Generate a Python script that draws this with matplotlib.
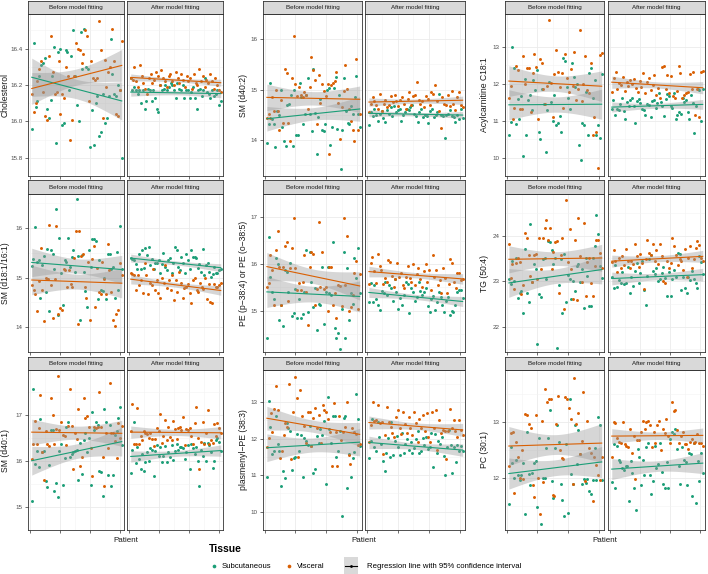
import numpy as np
import matplotlib
matplotlib.use("Agg")
import matplotlib.pyplot as plt

plt.rcParams['font.family'] = ['Liberation Sans', 'DejaVu Sans']

# ---- data: values per patient, left to right ----
chol_before_sub = [15.96, 16.43, 16.08, 16.11, 16.25, 16.31, 16.32, 16.35, 16.07, 16.02, 16.12, 16.25, 16.41, 15.88, 16.38, 16.40,
                   15.98, 15.99, 16.39, 16.38, 16.17, 16.36, 16.50, 16.25, 16.09, 16.00, 16.49, 16.29, 16.51, 16.30, 16.29, 15.86,
                   16.06, 15.87, 16.10, 16.14, 15.92, 15.94, 16.15, 15.99, 16.02, 16.14, 16.45, 16.26, 16.15, 16.14, 16.20, 16.17, 15.80]
chol_before_vis = [16.15, 16.05, 16.10, 16.22, 16.29, 16.33, 16.16, 16.03, 16.01, 16.36, 16.47, 16.27, 16.15, 16.16, 16.33, 16.04,
                   16.15, 16.13, 16.30, 16.25, 15.90, 16.01, 16.25, 16.43, 16.40, 16.39, 16.32, 16.37, 16.50, 16.47, 16.11, 16.33,
                   16.24, 16.23, 16.24, 16.55, 16.39, 16.02, 16.34, 16.19, 16.27, 16.30, 16.51, 16.33, 16.04, 16.03, 16.17, 16.44]
chol_after_sub = [16.24, 16.17, 16.19, 16.17, 16.15, 16.17, 16.10, 16.17, 16.07, 16.11, 16.18, 16.17, 16.11, 16.17, 16.13, 16.07,
                  16.05, 16.20, 16.17, 16.18, 16.20, 16.17, 16.19, 16.21, 16.20, 16.17, 16.13, 16.21, 16.18, 16.17, 16.20, 16.13,
                  16.17, 16.17, 16.13, 16.16, 16.19, 16.13, 16.07, 16.17, 16.18, 16.14, 16.17, 16.24, 16.16, 16.15, 16.13, 16.17,
                  16.14, 16.15, 16.17, 16.09, 16.11]
chol_after_vis = [16.24, 16.23, 16.30, 16.22, 16.19, 16.31, 16.25, 16.21, 16.18, 16.15, 16.24, 16.26, 16.21, 16.23, 16.27, 16.25,
                  16.20, 16.28, 16.24, 16.22, 16.19, 16.25, 16.26, 16.22, 16.20, 16.27, 16.24, 16.21, 16.26, 16.23, 16.19, 16.25,
                  16.22, 16.24, 16.18, 16.26, 16.21, 16.20, 16.29, 16.22, 16.25, 16.19, 16.23, 16.21, 16.26, 16.22, 16.18, 16.24,
                  16.20, 16.17, 16.16]

sm402_before_sub = [13.94, 14.32, 15.13, 14.41, 14.32, 13.86, 14.58, 14.49, 15.00, 14.26, 13.99, 13.88, 14.70, 14.71, 14.89, 13.88,
                    15.00, 14.10, 14.10, 15.14, 14.85, 14.33, 14.51, 14.90, 15.24, 14.51, 14.18, 15.42, 14.54, 13.72, 14.46, 14.82,
                    14.20, 14.18, 14.32, 15.00, 15.03, 13.90, 14.26, 15.03, 15.25, 14.23, 14.89, 13.42, 14.20, 15.24, 14.58, 14.35,
                    14.32, 14.67, 14.52, 14.85, 15.27, 14.52, 14.26]
sm402_before_vis = [14.43, 14.52, 14.43, 14.85, 14.58, 15.00, 14.58, 14.20, 14.79, 14.35, 15.42, 15.33, 14.35, 13.99, 15.24, 16.06,
                    15.12, 14.88, 15.06, 14.89, 14.85, 14.95, 14.90, 14.61, 15.05, 15.65, 15.40, 15.20, 14.32, 15.29, 14.73, 15.12,
                    14.97, 14.87, 15.12, 13.72, 15.09, 15.14, 15.17, 15.36, 14.73, 14.02, 14.65, 14.97, 15.48, 15.01, 14.61, 14.38,
                    14.20, 13.99, 15.60, 14.20, 14.52]
sm402_after_sub = [14.31, 14.55, 14.48, 14.62, 14.50, 14.38, 14.52, 14.58, 14.44, 14.36, 14.60, 14.52, 14.65, 14.48, 14.68, 14.55,
                   14.59, 14.62, 14.38, 14.50, 14.55, 14.62, 14.59, 14.66, 14.70, 14.52, 14.48, 14.36, 14.56, 14.62, 14.45, 14.50,
                   14.48, 14.35, 14.58, 14.62, 14.45, 14.50, 14.55, 14.92, 14.50, 14.48, 14.05, 14.50, 14.52, 14.60, 14.48, 14.45,
                   14.36, 14.50, 14.42, 14.62, 14.44]
sm402_after_vis = [14.55, 14.72, 14.85, 14.78, 14.70, 14.62, 14.92, 14.58, 14.72, 14.80, 14.65, 14.70, 14.88, 14.75, 14.90, 14.78,
                   14.68, 14.80, 14.85, 14.72, 14.62, 14.82, 14.95, 14.70, 14.88, 14.90, 15.15, 14.80, 14.72, 14.78, 14.65, 14.88,
                   14.82, 14.70, 14.96, 14.92, 15.10, 14.78, 14.58, 14.25, 14.85, 14.72, 14.70, 14.90, 14.68, 14.98, 14.72, 14.60,
                   14.85, 14.95, 14.70, 14.65]

acyl_before_sub = [10.61, 10.95, 13.00, 12.41, 10.91, 11.58, 11.04, 11.65, 10.05, 12.11, 10.61, 11.56, 11.69, 11.29, 12.09, 11.82,
                   12.36, 10.70, 10.50, 11.86, 11.44, 10.15, 11.29, 12.05, 11.51, 11.00, 11.69, 10.89, 10.92, 11.11, 10.68, 12.68,
                   12.62, 11.90, 11.60, 11.31, 12.55, 12.19, 11.90, 11.98, 10.33, 9.92, 10.92, 10.89, 11.78, 10.61, 12.29, 12.41,
                   11.60, 12.09, 10.61, 10.89, 10.52, 12.27]
acyl_before_vis = [11.60, 11.93, 11.05, 11.35, 12.47, 12.36, 11.31, 11.31, 12.74, 12.00, 12.41, 12.41, 11.24, 12.29, 12.79, 12.45,
                   11.05, 12.65, 12.56, 11.84, 11.44, 11.93, 13.71, 12.02, 11.09, 12.25, 12.90, 12.31, 11.90, 12.29, 11.33, 12.81,
                   12.14, 11.78, 12.38, 11.93, 12.85, 11.56, 11.86, 13.46, 11.54, 12.00, 12.74, 11.82, 11.74, 12.56, 10.61, 11.09,
                   10.68, 9.72, 12.77, 12.83]
acyl_after_sub = [11.30, 11.55, 11.15, 11.32, 11.28, 11.45, 11.60, 11.25, 11.05, 11.50, 11.40, 11.55, 11.62, 11.38, 10.92, 11.52,
                  11.58, 11.47, 11.30, 11.28, 11.15, 11.45, 11.42, 11.10, 11.52, 11.55, 11.35, 11.48, 11.75, 11.50, 11.40, 11.12,
                  11.58, 11.72, 11.65, 11.40, 11.35, 11.75, 11.05, 11.15, 11.22, 11.18, 11.60, 11.50, 11.55, 11.22, 11.05, 11.70,
                  11.48, 10.65, 11.38, 11.85, 11.82, 11.00, 11.86]
acyl_after_vis = [11.78, 12.15, 12.30, 11.85, 12.02, 11.95, 12.18, 11.80, 12.05, 11.92, 12.10, 11.98, 12.12, 11.88, 11.78, 12.08,
                  11.90, 12.28, 11.75, 12.05, 12.15, 11.82, 11.95, 12.22, 11.70, 11.88, 11.62, 12.45, 12.48, 11.85, 12.22, 11.75,
                  12.20, 11.65, 11.62, 11.80, 12.48, 12.28, 11.62, 11.70, 11.75, 11.78, 12.25, 11.85, 12.30, 11.15, 11.85, 11.10,
                  12.32, 12.34]

sm181_before_sub = [15.24, 15.38, 16.03, 15.32, 15.35, 14.59, 15.26, 15.44, 14.71, 15.58, 14.33, 15.55, 15.48, 15.18, 16.39, 14.24,
                    15.81, 15.09, 14.44, 15.36, 15.32, 15.81, 15.21, 15.41, 15.55, 15.12, 16.58, 15.44, 14.15, 15.45, 15.12, 14.74,
                    14.41, 15.56, 15.21, 15.78, 15.78, 15.75, 14.57, 15.35, 14.76, 14.74, 15.00, 14.56, 15.47, 15.47, 15.18, 15.21,
                    14.59, 15.51, 14.76, 16.04, 15.18]
sm181_before_vis = [14.85, 14.76, 14.68, 14.33, 14.94, 15.59, 14.76, 14.13, 15.00, 14.97, 16.06, 14.85, 14.18, 14.97, 16.04, 14.27,
                    14.38, 14.35, 15.18, 15.16, 14.82, 15.15, 14.88, 14.82, 15.39, 15.94, 14.06, 15.94, 15.44, 15.47, 14.82, 14.59,
                    15.31, 14.15, 15.38, 15.65, 14.41, 15.19, 14.71, 14.68, 15.32, 14.97, 14.68, 15.69, 15.15, 14.71, 14.15, 14.03,
                    14.27, 14.35, 15.29, 15.06]
sm181_after_sub = [15.40, 15.38, 15.35, 15.28, 15.17, 15.48, 15.18, 15.55, 15.20, 15.60, 15.45, 15.62, 15.25, 15.38, 15.18, 15.30,
                   15.30, 15.36, 15.10, 15.28, 15.50, 15.22, 15.15, 15.35, 15.40, 15.10, 15.30, 15.62, 15.55, 15.22, 15.15, 15.42,
                   15.30, 15.10, 15.48, 15.35, 15.18, 15.55, 15.42, 15.42, 15.40, 15.20, 15.28, 15.12, 15.58, 15.05, 15.25, 15.30,
                   15.12, 15.02, 15.08, 15.22, 15.10, 15.10, 15.15, 15.18]
sm181_after_vis = [15.10, 15.08, 15.06, 14.75, 15.05, 14.85, 14.95, 14.70, 15.30, 15.05, 14.68, 14.90, 14.85, 15.18, 14.75, 14.95,
                   14.70, 14.60, 15.00, 14.90, 15.25, 14.80, 14.95, 14.75, 15.05, 14.55, 14.95, 14.72, 15.12, 14.90, 14.60, 14.80,
                   14.82, 14.88, 14.70, 14.48, 14.95, 15.00, 14.75, 14.72, 14.90, 14.82, 14.78, 15.00, 14.58, 14.88, 14.50, 14.48,
                   14.88, 14.82, 14.82, 14.86, 14.90]

pe_before_sub = [14.43, 16.58, 15.73, 15.41, 15.25, 16.13, 16.00, 14.81, 15.12, 14.67, 15.88, 15.84, 15.41, 16.03, 14.90, 14.95,
                 15.46, 14.84, 15.26, 14.84, 14.93, 15.41, 16.31, 14.97, 16.25, 15.61, 15.09, 15.49, 14.59, 15.15, 15.12, 15.94,
                 14.72, 15.41, 15.94, 15.38, 15.33, 16.47, 14.63, 14.43, 14.52, 14.19, 15.03, 16.26, 14.41, 15.92, 14.81, 15.38,
                 15.15, 16.13, 15.70, 16.34, 15.38]
pe_before_vis = [15.50, 15.59, 16.19, 15.88, 15.12, 16.31, 16.71, 15.94, 15.12, 15.94, 16.38, 16.48, 15.22, 15.91, 16.34, 16.99,
                 15.91, 15.44, 15.59, 15.44, 15.62, 16.19, 15.41, 14.69, 15.94, 16.25, 16.22, 15.12, 15.46, 16.90, 15.50, 16.25,
                 15.46, 15.50, 15.00, 15.94, 15.94, 15.12, 15.38, 14.84, 15.56, 15.53, 15.10, 16.99, 15.56, 16.61, 15.00, 15.09,
                 15.35, 15.81, 16.06, 15.03, 15.79]
pe_after_sub = [15.20, 15.60, 15.20, 15.55, 15.25, 15.12, 15.02, 15.42, 15.38, 15.62, 15.35, 15.55, 15.48, 15.22, 15.68, 15.40,
                15.05, 15.28, 15.12, 15.35, 15.62, 15.58, 14.95, 15.48, 15.40, 15.22, 15.30, 15.62, 15.42, 15.35, 15.40, 15.48,
                15.10, 14.98, 15.25, 15.32, 15.02, 15.20, 15.40, 15.30, 15.12, 14.98, 15.22, 15.30, 14.92, 15.00, 14.98, 15.12,
                15.40, 15.45, 15.45, 15.28]
pe_after_vis = [15.58, 16.02, 16.15, 15.85, 15.60, 16.22, 15.95, 15.88, 15.58, 15.70, 15.62, 16.08, 16.05, 15.75, 15.52, 15.68,
                16.02, 15.72, 15.80, 15.55, 15.48, 15.72, 15.95, 15.70, 15.62, 16.00, 15.55, 15.78, 15.92, 15.68, 15.50, 15.85,
                16.00, 15.62, 15.88, 15.45, 16.20, 15.72, 15.88, 15.55, 15.65, 15.38, 15.92, 15.70, 15.38, 15.58, 16.12, 16.02,
                15.62, 15.48, 15.80, 15.80, 15.65, 15.68]

tg_before_sub = [23.04, 22.94, 23.45, 23.01, 23.50, 22.62, 22.73, 22.78, 22.30, 23.71, 22.74, 22.54, 24.26, 22.98, 23.38, 23.27,
                 21.62, 22.71, 22.66, 23.49, 23.52, 23.05, 23.89, 23.86, 23.68, 23.38, 23.52, 21.53, 22.91, 23.49, 22.31, 23.60,
                 22.54, 23.14, 23.05, 22.61, 23.01, 22.78, 23.34, 23.38, 22.99, 23.27, 22.42, 23.52, 23.12, 22.46, 22.46, 23.50,
                 23.78, 24.46, 24.04, 23.34, 23.07]
tg_before_vis = [23.82, 23.07, 23.38, 22.83, 23.41, 23.50, 23.43, 22.71, 22.91, 24.07, 23.94, 23.57, 23.12, 22.98, 23.57, 23.60,
                 23.05, 23.96, 23.26, 23.94, 24.18, 24.35, 23.91, 24.18, 23.27, 23.65, 23.86, 23.89, 22.74, 23.57, 23.94, 22.38,
                 24.79, 23.42, 24.16, 23.27, 22.60, 23.91, 22.58, 24.40, 23.56, 22.99, 24.29, 22.67, 23.42, 23.52, 22.96, 22.67,
                 23.34, 23.91, 23.91, 23.62, 23.29]
tg_after_sub = [23.10, 22.85, 23.35, 22.88, 23.02, 22.95, 23.20, 22.93, 22.95, 23.32, 22.75, 23.10, 22.90, 23.22, 23.40, 22.95,
                23.18, 23.45, 22.80, 22.48, 23.12, 23.48, 23.58, 23.22, 23.15, 23.30, 23.00, 23.05, 23.18, 23.32, 23.08, 22.68,
                23.20, 22.68, 23.05, 23.25, 23.10, 23.62, 23.60, 22.80, 23.10, 22.85, 22.75, 23.10, 23.02, 23.22, 23.05, 22.95,
                22.85, 23.55, 23.42, 23.15]
tg_after_vis = [23.42, 23.68, 23.45, 23.20, 23.52, 23.30, 23.55, 23.35, 23.70, 23.45, 23.28, 23.45, 23.38, 23.82, 23.55, 23.32,
                23.60, 23.40, 22.82, 23.48, 23.90, 23.62, 23.58, 23.82, 23.45, 23.68, 23.38, 23.82, 23.55, 23.00, 22.95, 23.45,
                23.30, 23.40, 23.95, 23.78, 23.58, 23.35, 23.48, 23.45, 23.25, 23.70, 23.10, 23.50, 23.78, 23.30, 23.48, 23.72,
                23.88, 23.80, 23.50, 23.45]

sm401_before_sub = [15.13, 17.57, 15.94, 16.22, 15.88, 16.92, 16.20, 16.22, 15.57, 15.44, 15.91, 16.68, 16.67, 15.35, 15.53, 15.22,
                    16.22, 16.37, 15.47, 16.07, 16.73, 16.84, 16.09, 16.16, 16.20, 16.22, 16.25, 15.58, 16.39, 15.72, 16.45, 16.62,
                    16.19, 16.51, 15.47, 17.06, 16.67, 16.84, 16.78, 15.78, 15.76, 15.25, 17.13, 16.84, 15.70, 16.78, 15.45, 15.69,
                    16.56, 16.65, 16.93, 17.17, 16.34]
sm401_before_vis = [16.05, 16.36, 16.87, 16.36, 16.71, 17.44, 16.19, 15.58, 16.65, 16.36, 16.32, 17.38, 17.01, 16.36, 16.70, 17.85,
                    16.68, 16.84, 16.56, 16.55, 16.34, 16.76, 17.57, 16.76, 15.83, 16.62, 16.48, 17.13, 15.89, 16.09, 17.38, 16.94,
                    16.98, 16.75, 16.28, 15.68, 16.73, 16.71, 16.73, 17.50, 16.73, 16.09, 15.45, 16.62, 16.28, 17.69, 16.61, 16.62,
                    16.43, 16.06, 16.82, 16.50, 16.76]
sm401_after_sub = [15.75, 16.25, 16.85, 15.95, 16.30, 16.05, 15.82, 16.15, 15.78, 15.98, 16.20, 16.00, 16.28, 16.25, 15.68, 16.22,
                   16.35, 16.10, 16.30, 15.98, 16.12, 16.32, 15.98, 16.20, 16.08, 16.35, 16.02, 16.22, 16.38, 16.25, 16.30, 16.30,
                   16.28, 16.05, 16.20, 16.35, 15.82, 16.38, 16.28, 16.15, 16.30, 16.00, 15.45, 16.25, 16.10, 16.40, 16.00, 16.40,
                   16.35, 16.20, 15.85, 16.00, 16.45, 16.50, 16.42, 16.22]
sm401_after_vis = [16.65, 17.25, 16.38, 16.38, 17.15, 16.38, 16.55, 16.45, 16.65, 16.62, 16.58, 16.50, 16.62, 16.48, 16.32, 16.48,
                   16.72, 16.65, 17.02, 16.40, 16.55, 16.90, 16.45, 16.75, 16.52, 16.45, 16.88, 16.70, 16.48, 16.72, 16.75, 16.68,
                   16.95, 16.35, 16.70, 16.68, 16.72, 16.55, 16.38, 16.82, 17.18, 16.50, 15.82, 16.42, 16.85, 16.38, 16.62, 17.10,
                   16.38, 16.45, 16.40, 16.80, 16.55, 16.82, 16.72, 16.62]

ppe_before_sub = [10.96, 13.04, 12.31, 11.59, 11.67, 12.63, 11.86, 11.67, 10.71, 11.11, 10.92, 12.42, 12.29, 12.20, 11.14, 11.48,
                  11.50, 12.14, 11.65, 12.10, 10.94, 12.01, 11.95, 11.84, 12.36, 11.80, 11.05, 11.17, 12.08, 11.89, 12.27, 12.10,
                  12.49, 10.77, 13.15, 12.27, 11.89, 12.63, 12.61, 11.50, 11.65, 12.20, 9.87, 12.57, 12.61, 10.64, 11.59, 10.94,
                  11.46, 11.63, 13.23, 12.55, 11.80]
ppe_before_vis = [11.76, 12.01, 12.70, 12.19, 12.80, 13.43, 12.78, 11.46, 11.67, 12.10, 12.44, 12.31, 13.49, 11.43, 12.72, 13.69,
                  13.11, 11.50, 13.32, 12.63, 12.36, 11.89, 12.74, 12.72, 11.80, 12.57, 12.85, 12.29, 12.66, 11.89, 12.91, 12.78,
                  12.74, 12.55, 12.17, 11.24, 12.97, 12.19, 11.24, 12.61, 11.97, 12.17, 12.31, 13.00, 11.54, 11.31, 12.29, 12.17,
                  12.12, 11.84, 11.86]
ppe_after_sub = [11.48, 11.93, 12.55, 11.78, 11.65, 12.45, 12.05, 11.85, 11.38, 11.12, 11.62, 12.02, 11.50, 12.45, 11.55, 11.95,
                 12.08, 11.78, 11.55, 12.15, 11.62, 11.85, 12.00, 11.68, 11.92, 11.60, 11.75, 11.98, 12.20, 11.62, 11.65, 12.02,
                 11.82, 12.05, 11.72, 11.78, 12.15, 11.22, 12.12, 11.60, 11.95, 11.85, 12.05, 11.52, 11.00, 11.78, 12.25, 11.82,
                 11.05, 11.78, 11.35, 11.82, 11.65, 11.80, 11.65]
ppe_after_vis = [11.92, 12.38, 13.00, 12.48, 12.50, 12.92, 12.42, 12.45, 11.58, 12.10, 12.88, 12.45, 12.32, 12.15, 12.05, 12.60,
                 12.78, 12.28, 12.12, 12.72, 12.40, 12.15, 12.58, 12.30, 12.10, 12.72, 12.42, 11.90, 12.55, 12.28, 12.65, 12.20,
                 12.70, 12.05, 11.92, 12.72, 12.30, 12.78, 11.70, 12.52, 12.15, 12.25, 12.22, 11.45, 12.22, 12.80, 12.30, 12.52,
                 12.20, 12.05, 12.52, 12.25, 12.10]

pc_before_sub = [11.53, 12.56, 12.26, 12.00, 12.32, 12.05, 11.97, 12.06, 12.26, 11.35, 12.82, 12.07, 11.87, 12.09, 12.26, 12.31,
                 11.48, 12.71, 11.18, 12.00, 12.00, 12.53, 12.71, 13.22, 11.95, 11.64, 12.54, 12.95, 12.64, 11.89, 11.60, 11.32,
                 12.60, 11.38, 13.41, 12.07, 11.89, 12.95, 12.25, 12.85, 12.42, 11.89, 11.99, 11.91, 11.99, 11.76, 11.72, 11.97,
                 12.53, 11.97, 13.09, 12.95, 11.97]
pc_before_vis = [12.22, 12.81, 12.82, 11.74, 12.65, 12.38, 12.00, 12.50, 11.99, 13.15, 13.12, 12.97, 12.89, 11.87, 11.66, 13.13,
                 12.00, 11.36, 13.01, 11.93, 13.59, 13.35, 13.41, 13.41, 11.69, 11.68, 12.97, 13.46, 12.50, 12.35, 12.34, 13.44,
                 13.41, 13.25, 13.06, 11.89, 13.79, 12.97, 13.16, 12.42, 12.66, 13.53, 11.95, 13.01, 12.53, 12.44, 11.58, 12.38,
                 12.24, 12.05, 11.97, 12.38]
pc_after_sub = [11.92, 12.60, 11.82, 12.58, 12.32, 12.28, 12.18, 12.15, 12.22, 12.22, 11.58, 12.30, 12.08, 11.82, 11.42, 12.52,
                12.38, 11.88, 12.32, 12.05, 12.55, 12.62, 12.05, 11.72, 11.95, 12.58, 12.18, 12.25, 12.62, 12.10, 11.90, 11.82,
                12.28, 11.82, 12.70, 12.82, 12.78, 12.88, 12.52, 12.22, 11.90, 12.55, 12.32, 12.28, 11.88, 12.45, 12.42, 11.68,
                12.62, 11.55, 12.30, 11.95, 12.45, 12.08]
pc_after_vis = [12.38, 13.00, 12.98, 12.72, 12.65, 12.62, 13.00, 12.60, 12.58, 12.55, 12.88, 12.45, 12.75, 11.98, 12.68, 12.68,
                12.82, 13.02, 12.88, 13.00, 13.02, 12.95, 12.55, 12.82, 12.62, 12.95, 13.02, 12.50, 12.88, 12.80, 13.05, 12.75,
                12.62, 13.35, 13.20, 13.22, 12.85, 12.62, 12.75, 12.82, 12.60, 12.60, 12.52, 12.65, 12.70, 12.62, 12.65, 12.78,
                12.62, 12.62, 12.58]

ylabels = ["Cholesterol", "SM (d40:2)", "Acylcarnitine C18:1",
           "SM (d18:1/16:1)", "PE (p\u221238:4) or PE (o\u221238:5)", "TG (50:4)",
           "SM (d40:1)", "plasmenyl\u2212PE (38:3)", "PC (30:1)"]
series = [
    (chol_before_sub, chol_before_vis, chol_after_sub, chol_after_vis),
    (sm402_before_sub, sm402_before_vis, sm402_after_sub, sm402_after_vis),
    (acyl_before_sub, acyl_before_vis, acyl_after_sub, acyl_after_vis),
    (sm181_before_sub, sm181_before_vis, sm181_after_sub, sm181_after_vis),
    (pe_before_sub, pe_before_vis, pe_after_sub, pe_after_vis),
    (tg_before_sub, tg_before_vis, tg_after_sub, tg_after_vis),
    (sm401_before_sub, sm401_before_vis, sm401_after_sub, sm401_after_vis),
    (ppe_before_sub, ppe_before_vis, ppe_after_sub, ppe_after_vis),
    (pc_before_sub, pc_before_vis, pc_after_sub, pc_after_vis),
]
ylims = [(15.76, 16.59), (13.29, 16.18), (9.53, 13.88),
         (13.91, 16.69), (14.12, 17.09), (21.44, 24.92),
         (14.98, 17.98), (9.74, 13.88), (11.07, 13.93)]
yticks = [[15.8, 16.0, 16.2, 16.4], [14, 15, 16], [10, 11, 12, 13],
          [14, 15, 16], [15, 16, 17], [22, 23, 24],
          [15, 16, 17], [10, 11, 12, 13], [12, 13]]
facets = ["Before model fitting", "After model fitting"]
tissues = ["Subcutaneous", "Visceral"]

GREEN = "#1B9E77"
ORANGE = "#D95F02"
W, H = 708, 574

fig = plt.figure(figsize=(W / 100, H / 100), dpi=100)

# pixel layout
cols = [((28, 124), (127, 223)), ((263, 362), (365, 465)), ((505, 604), (608, 705))]
rows = [(1, 14, 176), (180, 194, 352), (357, 370, 530)]
label_x = [-0.188, -0.15, -0.16]
XMAX = 63


def add_px(x0, x1, y0, y1):
    return fig.add_axes([x0 / W, 1 - y1 / H, (x1 - x0) / W, (y1 - y0) / H])


def fit(x, y):
    b, a = np.polyfit(x, y, 1)
    xs = np.linspace(x.min(), x.max(), 80)
    yh = a + b * xs
    n = len(x)
    s = np.sqrt(np.sum((y - (a + b * x)) ** 2) / (n - 2))
    se = s * np.sqrt(1 / n + (xs - x.mean()) ** 2 / np.sum((x - x.mean()) ** 2))
    return xs, yh, 2.01 * se


for k in range(9):
    r, c = divmod(k, 3)
    ys0, ys1, yp1 = rows[r]
    ticks = yticks[k]
    step = ticks[1] - ticks[0]
    minor = [t + step / 2 for t in [ticks[0] - step] + ticks]
    for f in range(2):
        x0, x1 = cols[c][f]
        ax = add_px(x0, x1, ys1, yp1)
        ax.set_xlim(-1, XMAX)
        ax.set_ylim(*ylims[k])
        ax.set_xticks([0, 20, 40, 60])
        ax.set_xticks([10, 30, 50], minor=True)
        ax.set_yticks(ticks)
        ax.set_yticks(minor, minor=True)
        ax.grid(True, which="major", color="#ebebeb", lw=0.6)
        ax.grid(True, which="minor", color="#f3f3f3", lw=0.4)
        ax.set_axisbelow(True)
        ax.tick_params(which="minor", length=0)
        ax.tick_params(axis="x", length=2.5, width=0.5, color="#333333", labelbottom=False)
        for sp in ax.spines.values():
            sp.set_color("#333333")
            sp.set_linewidth(0.6)
        if f == 0:
            ax.tick_params(axis="y", length=2.5, width=0.5, color="#333333",
                           labelsize=4.5, labelcolor="#4d4d4d", pad=1.5)
            if k == 0:
                ax.set_yticklabels(["%.1f" % t for t in ticks])
            ax.set_ylabel(ylabels[k], fontsize=6.2, color="#1a1a1a")
            ax.yaxis.set_label_coords(label_x[c], 0.5)
        else:
            ax.tick_params(axis="y", length=0, labelleft=False)
        for t, col in enumerate([GREEN, ORANGE]):
            y = np.array(series[k][2 * f + t])
            x = np.linspace(1.5, 61.5, len(y))
            ax.scatter(x, y, s=4.5, color=col, lw=0, zorder=2)
            xs, yh, ci = fit(x, y)
            ax.fill_between(xs, yh - ci, yh + ci, color="#999999", alpha=0.4, lw=0, zorder=3)
            ax.plot(xs, yh, color=col, lw=0.8, zorder=4)
        # facet strip
        st = add_px(x0, x1, ys0, ys1)
        st.set_facecolor("#d9d9d9")
        st.set_xticks([])
        st.set_yticks([])
        for sp in st.spines.values():
            sp.set_color("#333333")
            sp.set_linewidth(0.6)
        st.text(0.5, 0.5, facets[f], ha="center", va="center", fontsize=4.5, color="#1a1a1a")

# x-axis titles and legend drawn in pixel space
ov = fig.add_axes([0, 0, 1, 1], facecolor="none")
ov.set_xlim(0, W)
ov.set_ylim(H, 0)
ov.axis("off")
for c in range(3):
    ov.text((cols[c][0][0] + cols[c][1][1]) / 2, 541, "Patient", ha="center", va="center", fontsize=5.8, color="#1a1a1a")

ov.text(209, 549, "Tissue", ha="left", va="center", fontsize=7.5, fontweight="bold")
ov.scatter([214], [566], s=7, color=GREEN, lw=0)
ov.text(222, 566, tissues[0], ha="left", va="center", fontsize=5.6)
ov.scatter([289], [566], s=7, color=ORANGE, lw=0)
ov.text(297, 566, tissues[1], ha="left", va="center", fontsize=5.6)
ov.add_patch(plt.Rectangle((344, 557), 14, 17, color="#d9d9d9", lw=0))
ov.plot([345, 357], [565.5, 565.5], color="black", lw=0.8)
ov.scatter([351], [565.5], s=4, color="black", lw=0)
ov.text(367, 566, "Regression line with 95% confidence interval", ha="left", va="center", fontsize=5.6)

fig.savefig("out.png", dpi=100)
